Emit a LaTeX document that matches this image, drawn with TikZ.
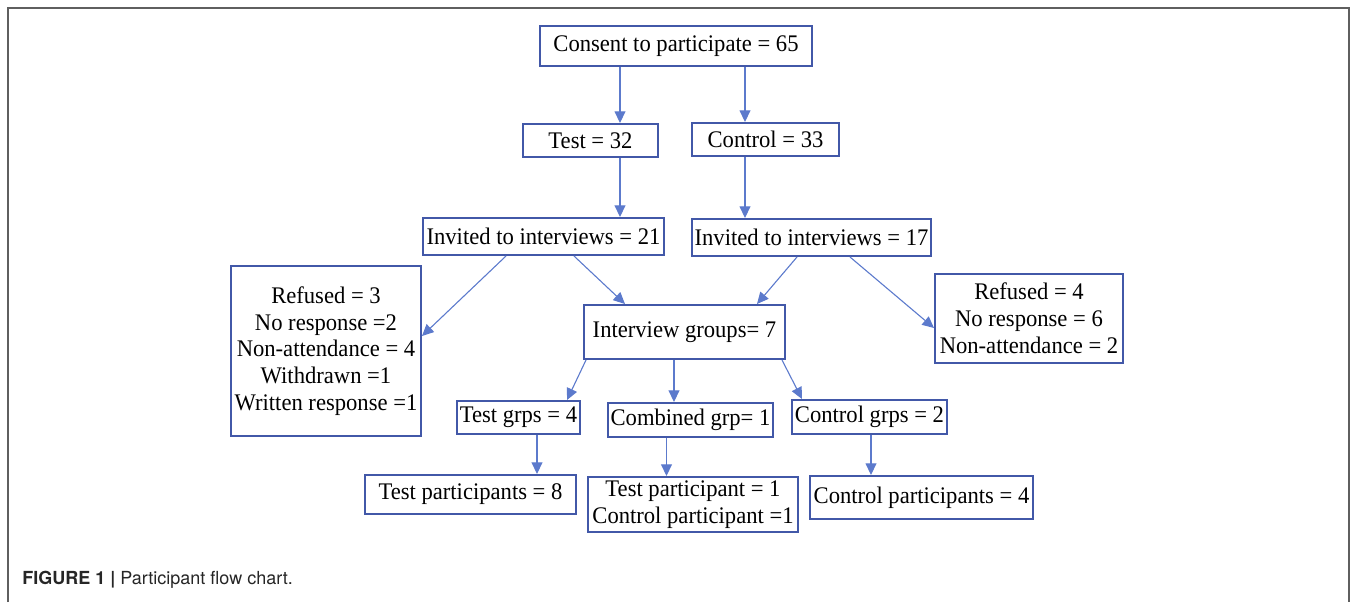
\documentclass[tikz,border=0pt]{standalone}
\usepackage{fontspec}
\setmainfont{Liberation Serif}[FakeStretch=0.95]
\newfontfamily\capfont{TeX Gyre Heros}
\usetikzlibrary{arrows.meta}
\definecolor{boxblue}{RGB}{66,88,168}
\definecolor{arrowblue}{RGB}{92,122,204}
\definecolor{framegray}{RGB}{95,95,95}

\tikzset{
  box/.style={draw=boxblue, line width=1pt, inner sep=1pt, align=center,
    font=\fontsize{11.9}{13.4}\selectfont},
  arr/.style={draw=arrowblue, line width=0.55pt,
    -{Triangle[length=5.8pt, width=5.4pt]}, arrowblue}
}

\begin{document}
\begin{tikzpicture}[x=0.5pt, y=-0.5pt]
  \useasboundingbox (0,0) rectangle (1357,602);
  \draw[framegray, line width=0.8pt] (8,602) -- (8,8) -- (1349,8) -- (1349,602);

  \node[box, minimum width=136pt, minimum height=20pt] (consent) at (676,46)
    {Consent to participate = 65};
  \node[box, minimum width=67.5pt, minimum height=16.5pt] (test) at (590.5,140.5)
    {Test = 32};
  \node[box, minimum width=73.5pt, minimum height=16.5pt] (control) at (765.5,139.5)
    {Control = 33};
  \node[box, minimum width=120.5pt, minimum height=18.5pt] (inv21) at (543.5,236.5)
    {Invited to interviews = 21};
  \node[box, minimum width=119.5pt, minimum height=18.5pt] (inv17) at (811.5,237.5)
    {Invited to interviews = 17};
  \node[box, minimum width=95pt, minimum height=85pt] (ref3) at (326,351)
    {Refused = 3\\No response =2\\Non-attendance = 4\\Withdrawn =1\\Written response =1};
  \node[box, minimum width=100.5pt, minimum height=27pt] (igroups) at (684.5,332)
    {Interview groups= 7};
  \node[box, minimum width=94pt, minimum height=44.5pt] (ref4) at (1029,318.5)
    {Refused = 4\\No response = 6\\Non-attendance = 2};
  \node[box, minimum width=61.5pt, minimum height=16.5pt] (testgrps) at (518.5,417.5)
    {Test grps = 4};
  \node[box, minimum width=82.5pt, minimum height=17pt] (combgrp) at (690.5,420)
    {Combined grp= 1};
  \node[box, minimum width=77.5pt, minimum height=17pt] (ctrlgrps) at (869.5,417)
    {Control grps = 2};
  \node[box, minimum width=105.5pt, minimum height=19.5pt] (testpart) at (470.5,494.5)
    {Test participants = 8};
  \node[box, minimum width=105pt, minimum height=27.5pt] (combpart) at (693,504.5)
    {Test participant = 1\\Control participant =1};
  \node[box, minimum width=111.5pt, minimum height=21.5pt] (ctrlpart) at (921.5,497.5)
    {Control participants = 4};

  \draw[arr] (consent.south -| 620,0) -- (test.north -| 620,0);
  \draw[arr] (consent.south -| 745,0) -- (control.north -| 745,0);
  \draw[arr] (test.south -| 620,0) -- (inv21.north -| 620,0);
  \draw[arr] (control.south -| 745,0) -- (inv17.north -| 745,0);
  \draw[arr] (inv21.south -| 506,0) -- (ref3.east |- 0,336);
  \draw[arr] (inv21.south -| 574,0) -- (igroups.north -| 625,0);
  \draw[arr] (inv17.south -| 797,0) -- (igroups.north -| 757,0);
  \draw[arr] (inv17.south -| 850,0) -- (ref4.west |- 0,328);
  \draw[arr] (igroups.south -| 586,0) -- (testgrps.north -| 567,0);
  \draw[arr] (igroups.south -| 674,0) -- (combgrp.north -| 674,0);
  \draw[arr] (igroups.south -| 782,0) -- (ctrlgrps.north -| 802,0);
  \draw[arr] (testgrps.south -| 537,0) -- (testpart.north -| 537,0);
  \draw[arr] (combgrp.south -| 666.5,0) -- (combpart.north -| 666.5,0);
  \draw[arr] (ctrlgrps.south -| 871,0) -- (ctrlpart.north -| 871,0);

  \node[anchor=west, inner sep=0pt, text=black!85, font=\capfont\fontsize{9}{11}\selectfont]
    (caption) at (22,580) {\textbf{FIGURE 1 |} Participant flow chart.};
\end{tikzpicture}
\end{document}
